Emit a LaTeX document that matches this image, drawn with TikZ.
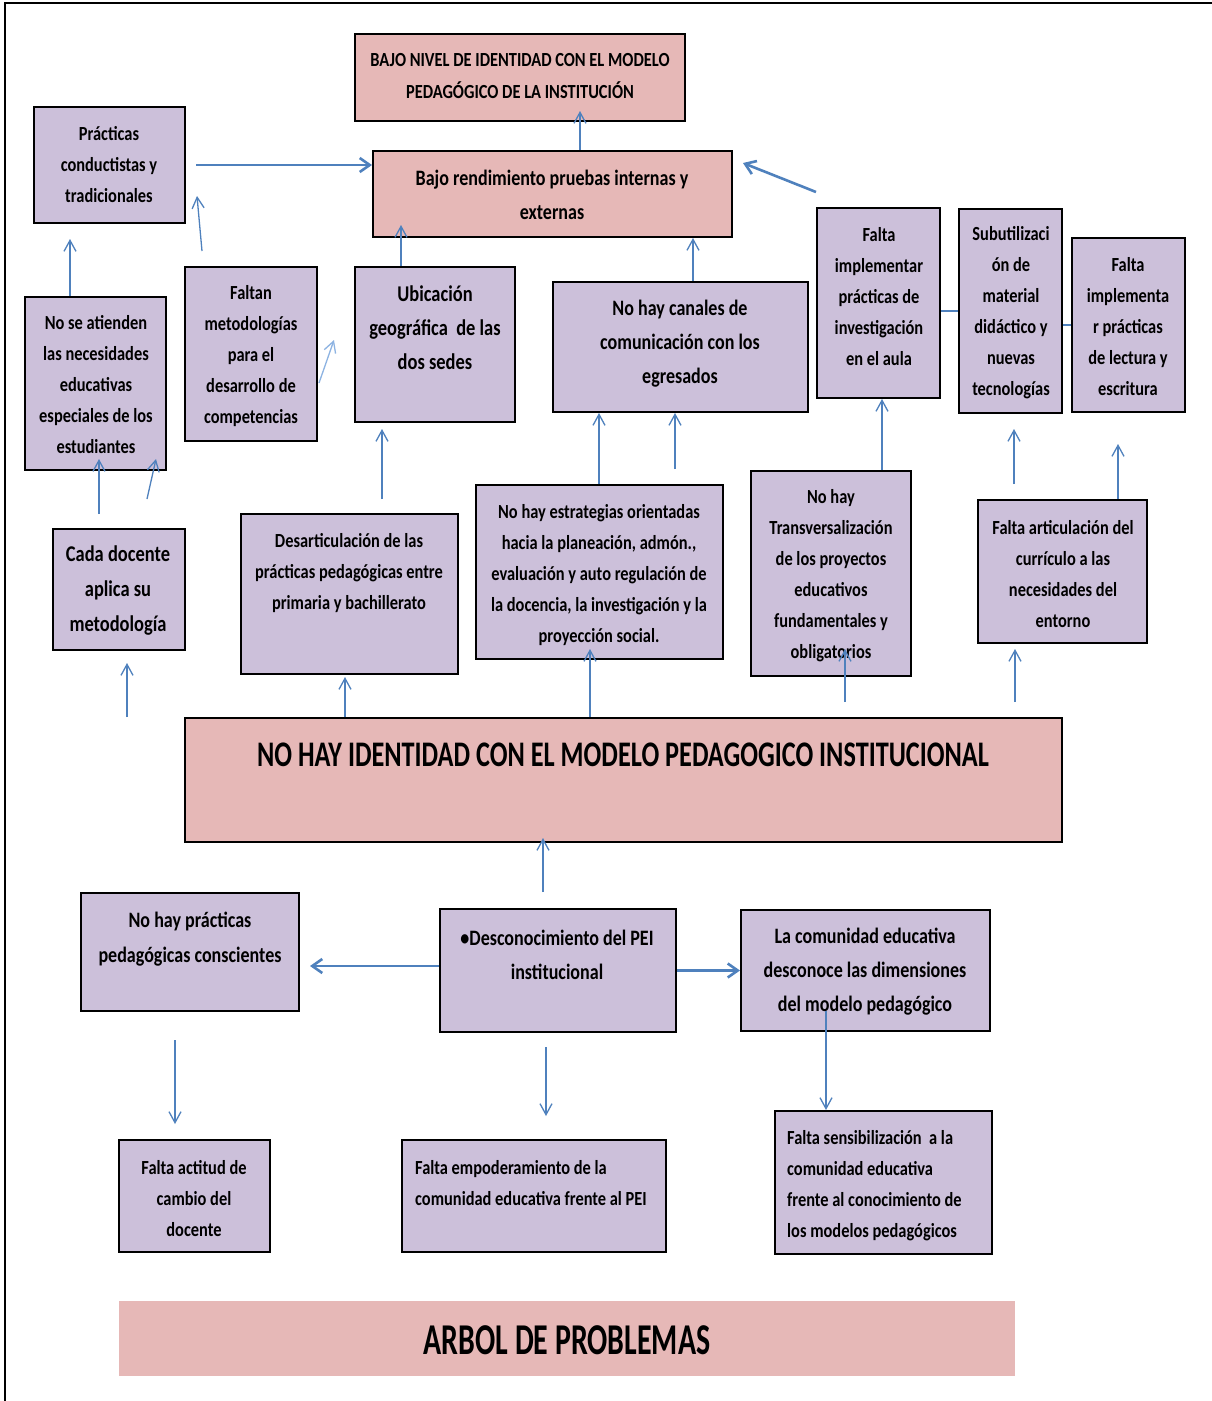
\documentclass[tikz,border=0pt]{standalone}
\usepackage{fontspec}
\setmainfont{Carlito}[FakeStretch=0.82]
\newfontfamily\ttlA{Carlito}[FakeStretch=0.73]
\newfontfamily\ttlB{Carlito}[FakeStretch=0.68]
\usetikzlibrary{arrows.meta,fit}
\definecolor{pinkc}{HTML}{E6B8B7}
\definecolor{purp}{HTML}{CCC0DA}
\definecolor{arrblue}{HTML}{4F81BD}
\definecolor{lightblue}{HTML}{8DB3E2}
\newcommand{\fs}[2]{\fontsize{#1}{#2}\selectfont}
\newcommand{\bx}[6]{\node[#6, fit={(#2,#3) (#4,#5)}] (#1) {};}
\tikzset{
  pbox/.style={draw=black, line width=2pt, fill=purp, inner sep=0pt},
  rbox/.style={draw=black, line width=2pt, fill=pinkc, inner sep=0pt},
  txt/.style={align=center, inner sep=0pt, font=\bfseries\fs{20}{31}},
  arr/.style={draw=arrblue, line width=1.3pt, -{Straight Barb[length=11pt,width=12pt]}},
  arrt/.style={arr, line width=2.6pt, -{Straight Barb[length=10pt,width=14pt]}},
}
\begin{document}
\begin{tikzpicture}[x=1pt,y=-1pt]
\useasboundingbox[fill=white] (0,0) rectangle (1212,1401);
\draw[line width=2pt] (5,1401) -- (5,3) -- (1212,3);
% boxes
\bx{bn}{355}{34}{685}{121}{rbox}
\bx{prac}{34}{107}{185}{223}{pbox}
\bx{bajo}{373}{151}{732}{237}{rbox}
\bx{nose}{25}{297}{166}{470}{pbox}
\bx{falt}{185}{267}{317}{441}{pbox}
\bx{ubi}{355}{267}{515}{422}{pbox}
\bx{can}{553}{282}{808}{412}{pbox}
\bx{finv}{817}{208}{940}{398}{pbox}
\bx{sub}{959}{209}{1062}{413}{pbox}
\bx{flec}{1072}{238}{1185}{412}{pbox}
\bx{cada}{53}{529}{185}{650}{pbox}
\bx{desa}{241}{514}{458}{674}{pbox}
\bx{estr}{476}{485}{723}{659}{pbox}
\bx{trans}{751}{471}{911}{676}{pbox}
\bx{fart}{978}{500}{1147}{643}{pbox}
\bx{nohay}{185}{718}{1062}{842}{rbox}
\bx{nhp}{81}{893}{299}{1011}{pbox}
\bx{desc}{440}{909}{676}{1032}{pbox}
\bx{com}{741}{910}{990}{1031}{pbox}
\bx{fac}{119}{1140}{270}{1252}{pbox}
\bx{femp}{402}{1140}{666}{1252}{pbox}
\bx{fsen}{775}{1111}{992}{1254}{pbox}
\node[fill=pinkc, inner sep=0pt, fit={(119,1301) (1015,1376)}] (arb) {};
% texts
\node[txt, font=\bfseries\fs{20}{32}] (bn-t) at (520,76) {BAJO NIVEL DE IDENTIDAD CON EL MODELO\\PEDAGÓGICO DE LA INSTITUCIÓN};
\node[txt] (prac-t) at (109,165) {Prácticas\\conductistas y\\tradicionales};
\node[txt, font=\bfseries\fs{22}{34}] (bajo-t) at (552,195) {Bajo rendimiento pruebas internas y\\externas};
\node[txt] (nose-t) at (96,385) {No se atienden\\las necesidades\\educativas\\especiales de los\\estudiantes};
\node[txt] (falt-t) at (251,356) {Faltan\\metodologías\\para el\\desarrollo de\\competencias};
\node[txt, font=\bfseries\fs{22.5}{34}] (ubi-t) at (435,328) {Ubicación\\geográfica~ de las\\dos sedes};
\node[txt, font=\bfseries\fs{22}{34}] (can-t) at (680,344) {No hay canales de\\comunicación con los\\egresados};
\node[txt] (finv-t) at (879,297) {Falta\\implementar\\prácticas de\\investigación\\en el aula};
\node[txt] (sub-t) at (1011,313) {Subutilizaci\\ón de\\material\\didáctico y\\nuevas\\tecnologías};
\node[txt] (flec-t) at (1128,327) {Falta\\implementa\\r prácticas\\de lectura y\\escritura};
\node[txt, font=\bfseries\fs{22.5}{35}] (cada-t) at (118,591) {Cada docente\\aplica su\\metodología};
\node[txt] (desa-t) at (349,573) {Desarticulación de las\\prácticas pedagógicas entre\\primaria y bachillerato};
\node[txt] (estr-t) at (599,575) {No hay estrategias orientadas\\hacia la planeación, admón.,\\evaluación y auto regulación de\\la docencia, la investigación y la\\proyección social.};
\node[txt] (trans-t) at (831,576) {No hay\\Transversalización\\de los proyectos\\educativos\\fundamentales y\\obligatorios};
\node[txt] (fart-t) at (1063,574) {Falta articulación del\\currículo a las\\necesidades del\\entorno};
\node[txt, font=\ttlA\bfseries\fs{36}{40}] (nohay-t) at (623,755) {NO HAY IDENTIDAD CON EL MODELO PEDAGOGICO INSTITUCIONAL};
\node[txt, font=\bfseries\fs{22}{35}] (nhp-t) at (190,939) {No hay prácticas\\pedagógicas conscientes};
\node[txt, font=\bfseries\fs{22}{34}] (desc-t) at (557,955) {•Desconocimiento del PEI\\institucional};
\node[txt, font=\bfseries\fs{22}{34}] (com-t) at (865,972) {La comunidad educativa\\desconoce las dimensiones\\del modelo pedagógico};
\node[txt] (fac-t) at (194,1199) {Falta actitud de\\cambio del\\docente};
\node[txt, align=left, anchor=west] (femp-t) at (415,1183.5) {Falta empoderamiento de la\\comunidad educativa frente al PEI};
\node[txt, align=left, anchor=west] (fsen-t) at (787,1185.5) {Falta sensibilización~ a la\\comunidad educativa\\frente al conocimiento de\\los modelos pedagógicos};
\node[txt, font=\ttlB\bfseries\fs{44}{48}] (arb-t) at (567,1340) {ARBOL DE PROBLEMAS};
% connectors
\draw[arr] ([xshift=208pt]bajo.north west) -- ([xshift=226pt,yshift=11pt]bn.south west);
\draw[arrt] ([xshift=10pt]prac.east) -- ([yshift=29pt]bajo.west);
\draw[arrt] ([yshift=15pt]finv.north west) -- ([xshift=10pt,yshift=31pt]bajo.east);
\draw[arr] ([xshift=18pt,yshift=15pt]falt.north west) -- ([xshift=11pt,yshift=-31pt]prac.east);
\draw[arr] ([xshift=46pt]nose.north west) -- ([xshift=37pt,yshift=-15pt]prac.south west);
\draw[arr, draw=lightblue] ([xshift=1pt,yshift=-29pt]falt.east) -- ([xshift=-20pt,yshift=4.5pt]ubi.west);
\draw[arr] ([xshift=47pt]ubi.north west) -- ([xshift=29pt,yshift=13pt]bajo.south west);
\draw[arr] ([xshift=141pt]can.north west) -- ([xshift=321pt]bajo.south west);
\draw[arr] ([xshift=47pt,yshift=14pt]cada.north west) -- ([xshift=75pt,yshift=12pt]nose.south west);
\draw[arr] ([xshift=95pt,yshift=29pt]cada.north west) -- ([xshift=132pt,yshift=12pt]nose.south west);
\draw[arr] ([xshift=-57pt]nohay.north west) -- ([xshift=75pt,yshift=-12pt]cada.south west);
\draw[arr] ([xshift=142pt,yshift=14pt]desa.north west) -- ([xshift=28pt,yshift=-6pt]ubi.south west);
\draw[arr] ([xshift=124pt]estr.north west) -- ([xshift=47pt]can.south west);
\draw[arr] ([xshift=200pt,yshift=15pt]estr.north west) -- ([xshift=123pt]can.south west);
\draw[arr] ([xshift=132pt]trans.north west) -- ([xshift=66pt]finv.south west);
\draw[arr] ([xshift=37pt,yshift=15pt]fart.north west) -- ([xshift=56pt,yshift=-15pt]sub.south west);
\draw[arr] ([xshift=141pt]fart.north west) -- ([xshift=47pt,yshift=-31pt]flec.south west);
\draw[draw=arrblue, line width=2pt] ([yshift=-8pt]finv.east) -- (sub.west);
\draw[draw=arrblue, line width=2pt] ([yshift=-14pt]sub.east) -- (flec.west);
\draw[arr] ([xshift=161pt]nohay.north west) -- ([xshift=105pt,yshift=-2pt]desa.south west);
\draw[arr] ([xshift=406pt]nohay.north west) -- ([xshift=115pt,yshift=11pt]estr.south west);
\draw[arr] ([xshift=661pt,yshift=15pt]nohay.north west) -- ([xshift=95pt,yshift=28pt]trans.south west);
\draw[arr] ([xshift=831pt,yshift=15pt]nohay.north west) -- ([xshift=38pt,yshift=-5pt]fart.south west);
\draw[arr] ([xshift=104pt,yshift=16pt]desc.north west) -- ([xshift=359pt,yshift=5pt]nohay.south west);
\draw[arrt] ([yshift=4.5pt]desc.west) -- ([xshift=10pt,yshift=-14pt]nhp.east);
\draw[arrt] (desc.east) -- (com.west);
\draw[arr] ([xshift=95pt,yshift=-28pt]nhp.south west) -- ([xshift=57pt,yshift=15pt]fac.north west);
\draw[arr] ([xshift=107pt,yshift=-14pt]desc.south west) -- ([xshift=145pt,yshift=23pt]femp.north west);
\draw[arr] ([xshift=86pt,yshift=21pt]com.south west) -- ([xshift=52pt]fsen.north west);
\end{tikzpicture}
\end{document}
